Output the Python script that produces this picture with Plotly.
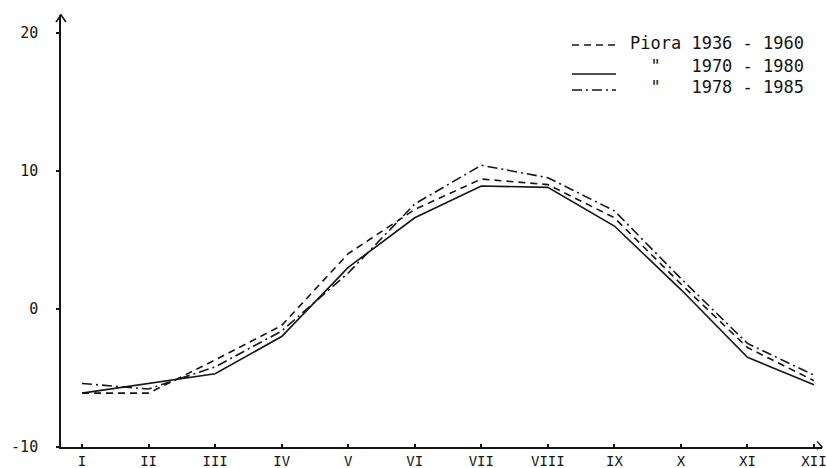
import plotly.graph_objects as go

months = list(range(1, 13))
month_labels = ["I", "II", "III", "IV", "V", "VI", "VII", "VIII", "IX", "X", "XI", "XII"]

piora_1936_1960 = [-6.1, -6.1, -3.7, -1.2, 4.0, 7.2, 9.4, 9.0, 6.6, 1.8, -2.8, -5.2]
piora_1970_1980 = [-6.1, -5.4, -4.7, -2.0, 3.0, 6.6, 8.9, 8.8, 6.0, 1.4, -3.5, -5.5]
piora_1978_1985 = [-5.4, -5.8, -4.2, -1.6, 2.6, 7.6, 10.4, 9.5, 7.1, 2.2, -2.5, -4.8]

y_ticks = [-10, 0, 10, 20]

legend_labels = [
    "Piora 1936 - 1960",
    "\u00a0\u00a0\"\u00a0\u00a0\u00a01970 - 1980",
    "\u00a0\u00a0\"\u00a0\u00a0\u00a01978 - 1985",
]
series = [piora_1936_1960, piora_1970_1980, piora_1978_1985]
dashes = ["7px,5px", "solid", "10px,4px,2px,4px"]

ink = "#151515"
mono = "DejaVu Sans Mono"

fig = go.Figure()
for name, vals, dash in zip(legend_labels, series, dashes):
    fig.add_trace(go.Scatter(
        x=months, y=vals, mode="lines", name=name, showlegend=False,
        line=dict(color=ink, width=1.6, dash=dash),
    ))

L, R, T, B = 61, 5, 15, 21
W, H = 827, 468
pw, ph = W - L - R, H - T - B
dx, dy = 5 / pw, 7 / ph


def px(x):
    return (x - L) / pw


def py(y):
    return 1 - (y - T) / ph


shapes = [
    dict(type="path", xref="paper", yref="paper",
         path=f"M {-dx},{1-dy} L 0,1 L {dx},{1-dy}",
         line=dict(color=ink, width=1.6)),
    dict(type="path", xref="paper", yref="paper",
         path=f"M {1-dx},{0+dy*0.8} L 1,0 L {1-dx},{0-dy*0.3}",
         line=dict(color=ink, width=1.4)),
]
annotations = []
text_rows = [43, 66, 87]
line_rows = [45, 74, 90]
for label, dash, ty, ly in zip(legend_labels, dashes, text_rows, line_rows):
    shapes.append(dict(type="line", xref="paper", yref="paper",
                       x0=px(572), x1=px(616), y0=py(ly), y1=py(ly),
                       line=dict(color=ink, width=1.6, dash=dash)))
    annotations.append(dict(xref="paper", yref="paper", x=px(628), y=py(ty),
                            xanchor="left", yanchor="middle", showarrow=False,
                            text=label, font=dict(family=mono, size=17, color=ink)))

fig.update_layout(
    width=W, height=H,
    margin=dict(l=L, r=R, t=T, b=B, pad=0, autoexpand=False),
    paper_bgcolor="white", plot_bgcolor="white",
    showlegend=False,
    xaxis=dict(
        range=[0.684, 12.12], tickvals=months, ticktext=month_labels,
        showgrid=False, zeroline=False, showline=True, linecolor=ink, linewidth=1.6,
        ticks="inside", ticklen=3, tickcolor=ink, tickwidth=1.5, automargin=False,
        tickfont=dict(family=mono, size=14, color=ink), ticklabeloverflow="allow",
    ),
    yaxis=dict(
        range=[-10, 21.28], tickvals=y_ticks, ticktext=[str(v) for v in y_ticks],
        showgrid=False, zeroline=False, showline=True, linecolor=ink, linewidth=1.6,
        ticks="outside", ticklen=3, tickcolor=ink, tickwidth=1.5, automargin=False,
        tickfont=dict(family=mono, size=15, color=ink), ticklabelstandoff=15,
    ),
    shapes=shapes,
    annotations=annotations,
)

fig.write_html("out.html", config={"displayModeBar": False},
               post_script="document.body.style.margin='0';")
